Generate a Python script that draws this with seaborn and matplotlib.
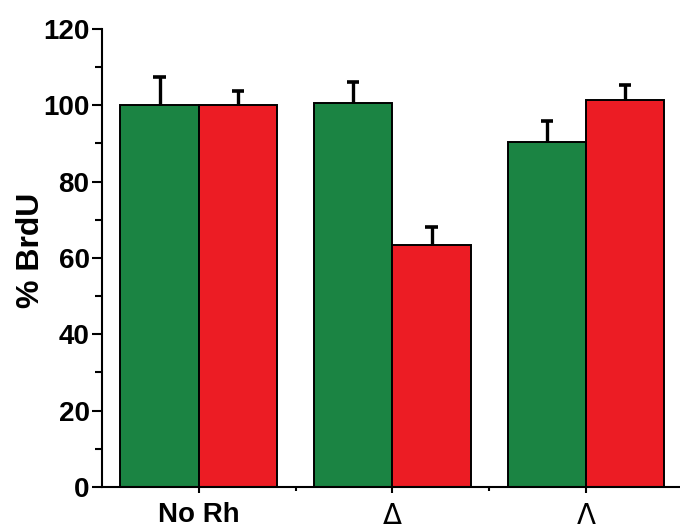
import matplotlib
matplotlib.use("Agg")
import matplotlib.pyplot as plt
from matplotlib.ticker import MultipleLocator
import numpy as np
import pandas as pd
import seaborn as sns

# Conditions along the x axis and the two measured series
groups = ["No Rh", "\u0394", "\u039b"]
series = ["set 1", "set 2"]
green_vals = [100.0, 100.5, 90.3]
red_vals = [100.0, 63.3, 101.4]
green_err = [7.5, 5.7, 5.5]
red_err = [3.8, 4.8, 3.9]
y_ticks = [0, 20, 40, 60, 80, 100, 120]

colors = ["#1b8443", "#ec1c24"]

df = pd.DataFrame({
    "group": groups * 2,
    "series": [series[0]] * 3 + [series[1]] * 3,
    "value": green_vals + red_vals,
    "err": green_err + red_err,
})

sns.set_style("ticks")
plt.rcParams["font.family"] = ["Liberation Sans", "DejaVu Sans"]
plt.rcParams["text.color"] = "black"
plt.rcParams["axes.labelcolor"] = "black"
plt.rcParams["axes.edgecolor"] = "black"
plt.rcParams["xtick.color"] = "black"
plt.rcParams["ytick.color"] = "black"

fig = plt.figure(figsize=(6.8, 5.29), dpi=100)
ax = fig.add_axes([0.150, 0.0794, 0.854, 0.866])

sns.barplot(data=df, x="group", y="value", hue="series", order=groups,
            hue_order=series, palette=colors, width=0.81, edgecolor="black",
            linewidth=1.4, saturation=1, legend=False, errorbar=None, ax=ax)

# Upward-only error bars starting at each bar's top
cap_half = 0.032
for patch, (_, row) in zip(ax.patches, df.iterrows()):
    cx = patch.get_x() + patch.get_width() / 2
    top = row["value"] + row["err"]
    ax.vlines(cx, row["value"], top, colors="black", linewidth=2.4, zorder=3)
    ax.hlines(top, cx - cap_half, cx + cap_half, colors="black", linewidth=2.6, zorder=3)

ax.set_xlim(-0.5, 2.5)
ax.set_ylim(0, 120)
ax.set_yticks(y_ticks)
ax.yaxis.set_minor_locator(MultipleLocator(10))
ax.set_xticks(range(len(groups)))
ax.set_xticklabels(groups)
ax.set_xticks([0.5, 1.5], minor=True)

for lbl in ax.get_xticklabels():
    lbl.set_fontsize(20)
    if lbl.get_text() == "No Rh":
        lbl.set_fontweight("bold")
    else:
        lbl.set_fontfamily(["DejaVu Sans"])
        lbl.set_fontweight("normal")
for lbl in ax.get_yticklabels():
    lbl.set_fontsize(20)
    lbl.set_fontweight("bold")

ax.set_xlabel("")
ax.set_ylabel("% BrdU", fontsize=23, fontweight="bold")
ax.yaxis.set_label_coords(-0.097, 0.517)

ax.tick_params(axis="y", which="major", length=7, width=1.5, direction="out", pad=2)
ax.tick_params(axis="y", which="minor", length=5, width=1.5, direction="out")
ax.tick_params(axis="x", which="major", length=4, width=1.5, direction="out", pad=7)
ax.tick_params(axis="x", which="minor", length=3, width=1.5, direction="out")
for side in ["top", "right"]:
    ax.spines[side].set_visible(False)
for side in ["left", "bottom"]:
    ax.spines[side].set_linewidth(1.5)

fig.savefig("out.png", dpi=100)
